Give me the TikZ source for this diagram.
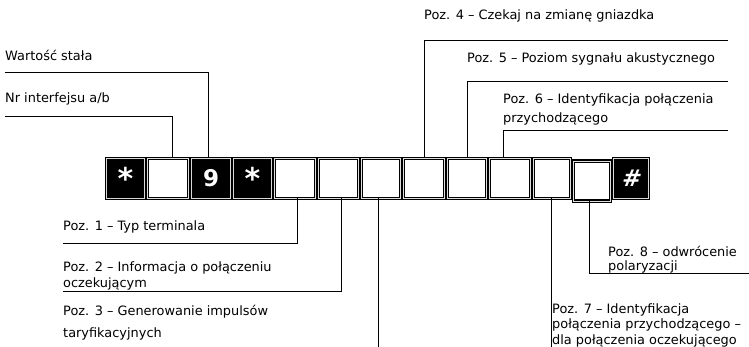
\documentclass[tikz,border=0pt]{standalone}
\usepackage{fontspec}
\setmainfont{DejaVu Sans}
\newcommand\linestack[2]{\vtop{\baselineskip=#1pt\lineskiplimit=-50pt\lineskip=0pt #2}}
\newcommand\keystar{\raisebox{-6pt}{\fontsize{30}{30}\selectfont *}}
\tikzset{
  keybase/.style={draw=black, line width=1.1pt, double distance=0.9pt, minimum height=40pt, inner sep=0pt, outer sep=0pt, anchor=center},
  whitekey/.style={keybase, fill=white, double=gray!25},
  blackkey/.style={keybase, fill=black, double=gray!30, text=white, font=\bfseries\fontsize{23}{23}\selectfont},
  lbl/.style={anchor=base west, inner sep=0pt, font=\fontsize{12.9}{15}\selectfont},
  lead/.style={draw=black, line width=0.8pt},
}
\begin{document}
\begin{tikzpicture}[x=1pt,y=-1pt]
\useasboundingbox (0,0) rectangle (749,347);
% keys
\node[blackkey, minimum width=38pt] (k1) at (125.5,178.5) {\keystar};
\node[whitekey, minimum width=41pt] (k2) at (168,178.5) {};
\node[blackkey, minimum width=39pt] (k3) at (211,178.5) {9};
\node[blackkey, minimum width=38pt] (k4) at (252.5,178.5) {\keystar};
\node[whitekey, minimum width=41pt] (k5) at (295,178.5) {};
\node[whitekey, minimum width=40pt] (k6) at (338.5,178.5) {};
\node[whitekey, minimum width=39pt] (k7) at (381,178.5) {};
\node[whitekey, minimum width=41pt] (k8) at (424,178.5) {};
\node[whitekey, minimum width=39pt] (k9) at (467,178.5) {};
\node[whitekey, minimum width=41pt] (k10) at (510,178.5) {};
\node[whitekey, minimum width=37pt] (k11) at (552,178.5) {};
\node[whitekey, minimum width=37pt] (k12) at (592,181) {};
\node[blackkey, minimum width=35pt] (k13) at (631,178.5) {\addfontfeature{FakeSlant=0.15}\#};
% labels
\node[lbl] (wart) at (5,61) {Wartość stała};
\node[lbl] (nr) at (5,103) {Nr interfejsu a/b};
\node[lbl] (p4) at (424,20) {Poz. 4 – Czekaj na zmianę gniazdka};
\node[lbl] (p5) at (467,63) {Poz. 5 – Poziom sygnału akustycznego};
\node[lbl] (p6) at (503,104) {\linestack{19}{\hbox{Poz. 6 – Identyfikacja połączenia}\hbox{przychodzącego}}};
\node[lbl] (p1) at (63,231) {Poz. 1 – Typ terminala};
\node[lbl] (p2) at (63,271) {\linestack{17}{\hbox{Poz. 2 – Informacja o połączeniu}\hbox{oczekującym}}};
\node[lbl] (p3) at (63,315) {\linestack{22}{\hbox{Poz. 3 – Generowanie impulsów}\hbox{taryfikacyjnych}}};
\node[lbl] (p8) at (608,257) {\linestack{13.5}{\hbox{Poz. 8 – odwrócenie}\hbox{polaryzacji}}};
\node[lbl] (p7) at (552,313) {\linestack{15.5}{\hbox{Poz. 7 – Identyfikacja}\hbox{połączenia przychodzącego –}\hbox{dla połączenia oczekującego}}};
% leader coordinates
\coordinate (wartL) at (5,72);
\coordinate (nrL) at (5,116);
\coordinate (p4R) at (728,40);
\coordinate (p5R) at (728,81);
\coordinate (p6R) at (728,130);
\coordinate (p1L) at (63,243);
\coordinate (p2L) at (63,291);
\coordinate (p3B) at (378,347);
\coordinate (p7B) at (551,347);
\coordinate (p8R) at (749,273);
% leaders
\draw[lead] (wartL) -| ([xshift=-3pt]k3.north);
\draw[lead] (nrL) -| ([xshift=4pt]k2.north);
\draw[lead] (p4R) -| (k8.north);
\draw[lead] (p5R) -| (k9.north);
\draw[lead] (p6R) -| ([xshift=-7pt]k10.north);
\draw[lead] (p1L) -| ([xshift=2pt]k5.south);
\draw[lead] (p2L) -| ([xshift=2.5pt]k6.south);
\draw[lead] ([xshift=-3pt]k7.south) -- (p3B);
\draw[lead] ([xshift=-1pt]k11.south) -- (p7B);
\draw[lead] (p8R) -| ([xshift=-3pt]k12.south);
\end{tikzpicture}
\end{document}
